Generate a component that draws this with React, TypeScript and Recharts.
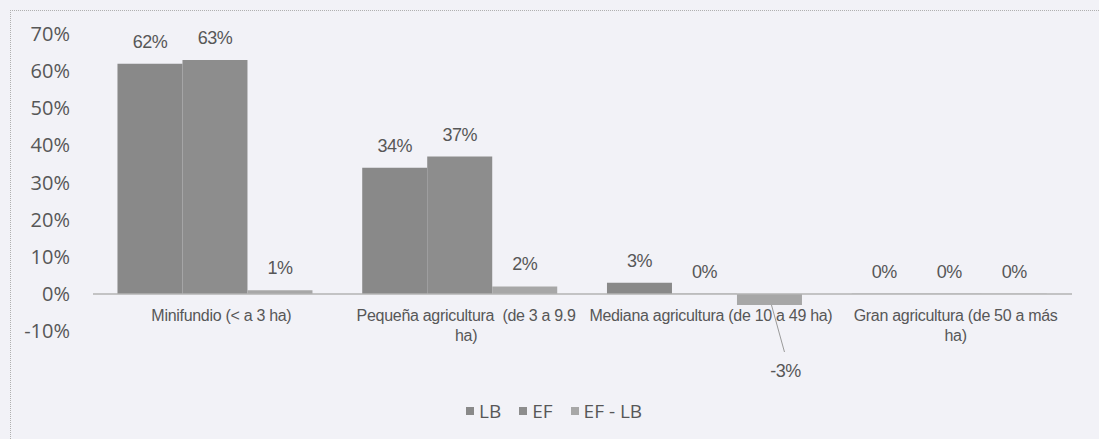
import { Bar, BarChart, LabelList, Legend, ReferenceLine, XAxis, YAxis } from "recharts";

const CATEGORIES = [
  "Minifundio (< a 3 ha)",
  "Pequeña agricultura  (de 3 a 9.9 ha)",
  "Mediana agricultura (de 10 a 49 ha)",
  "Gran agricultura (de 50 a más ha)",
];
// how the category labels wrap in the original
const CATEGORY_LINES = [
  ["Minifundio (< a 3 ha)"],
  ["Pequeña agricultura  (de 3 a 9.9", "ha)"],
  ["Mediana agricultura (de 10 a 49 ha)"],
  ["Gran agricultura (de 50 a más", "ha)"],
];
const LB = [62, 34, 3, 0];
const EF = [63, 37, 0, 0];
const DIFF = [1, 2, -3, 0];
const Y_TICKS = [-10, 0, 10, 20, 30, 40, 50, 60, 70];

const SERIES = [
  { key: "lb", name: "LB", color: "#898989" },
  { key: "ef", name: "EF", color: "#8d8d8d" },
  { key: "diff", name: "EF - LB", color: "#a7a7a7" },
];

const rows = CATEGORIES.map((c, i) => ({ cat: c, lb: LB[i], ef: EF[i], diff: DIFF[i] }));

const TEXT = "#575757";
const ARIAL = "'Liberation Sans', Arial, sans-serif";
const SANS = "'Open Sans', 'Noto Sans', sans-serif";

function CategoryTick(props: any) {
  const { x, y, index } = props;
  const lines = CATEGORY_LINES[index] ?? [];
  return (
    <g>
      {lines.map((l, i) => (
        <text
          key={i}
          x={x + 6}
          y={y - 10 + i * 20}
          textAnchor="middle"
          fill={TEXT}
          fontFamily={ARIAL}
          fontSize={16}
          letterSpacing={-0.3}
          style={{ whiteSpace: "pre" }}
        >
          {l}
        </text>
      ))}
    </g>
  );
}

// Value labels above the bars; a negative value gets Excel's leader line below.
function ValueLabel(props: any) {
  const { x, y, width, height, value } = props;
  if (value == null) return null;
  const cx = x + width / 2;
  const top = Math.min(y, y + height);
  const bottom = Math.max(y, y + height);
  const style = { fill: TEXT, fontFamily: ARIAL, fontSize: 18, letterSpacing: -0.5 };
  if (value < 0) {
    return (
      <g>
        <line x1={cx + 2} y1={bottom} x2={cx + 15} y2={bottom + 47} stroke="#9a9a9a" strokeWidth={1} />
        <text x={cx + 16} y={bottom + 72} textAnchor="middle" {...style}>
          {`${value}%`}
        </text>
      </g>
    );
  }
  return (
    <text x={cx} y={top - 16} textAnchor="middle" {...style}>
      {`${value}%`}
    </text>
  );
}

function LegendContent() {
  return (
    <div style={{ display: "flex", alignItems: "center", gap: 18, fontFamily: SANS, fontSize: 19, color: TEXT }}>
      {SERIES.map((s) => (
        <div key={s.key} style={{ display: "flex", alignItems: "center", gap: 5 }}>
          <span style={{ width: 8, height: 8, background: s.color, display: "inline-block" }} />
          <span>{s.name}</span>
        </div>
      ))}
    </div>
  );
}

export default function App() {
  return (
    <div style={{ position: "absolute", left: 0, top: 0, width: 1099, height: 439, background: "#f2f2f7", overflow: "hidden" }}>
      <div
        style={{
          position: "absolute",
          left: 10,
          top: 10,
          width: 1100,
          height: 440,
          borderLeft: "1px dotted #b0b0b0",
          borderTop: "1px dotted #b0b0b0",
        }}
      >
        <BarChart
          width={1089}
          height={429}
          data={rows}
          margin={{ top: 23, right: 28, bottom: 79, left: 22 }}
          barCategoryGap="10%"
          barGap={0}
        >
          <YAxis
            width={60}
            domain={[-10, 70]}
            ticks={Y_TICKS}
            tickFormatter={(v) => `${v}%`}
            axisLine={false}
            tickLine={false}
            tickSize={0}
            tickMargin={23}
            tick={{ fill: TEXT, fontSize: 20, fontFamily: SANS }}
          />
          <XAxis
            dataKey="cat"
            height={30}
            axisLine={false}
            tickLine={false}
            tickSize={0}
            tickMargin={0}
            interval={0}
            tick={<CategoryTick />}
          />
          <ReferenceLine y={0} stroke="#b3b3b3" strokeWidth={1.5} />
          {SERIES.map((s) => (
            <Bar
              key={s.key}
              dataKey={s.key}
              name={s.name}
              fill={s.color}
              minPointSize={(v: number) => (v === 0 ? 0.01 : 0)}
              isAnimationActive={false}
            >
              <LabelList dataKey={s.key} content={<ValueLabel />} />
            </Bar>
          ))}
          <Legend
            layout="horizontal"
            verticalAlign="middle"
            content={<LegendContent />}
            wrapperStyle={{ top: 387, left: 455, width: "auto" }}
          />
        </BarChart>
      </div>
    </div>
  );
}
